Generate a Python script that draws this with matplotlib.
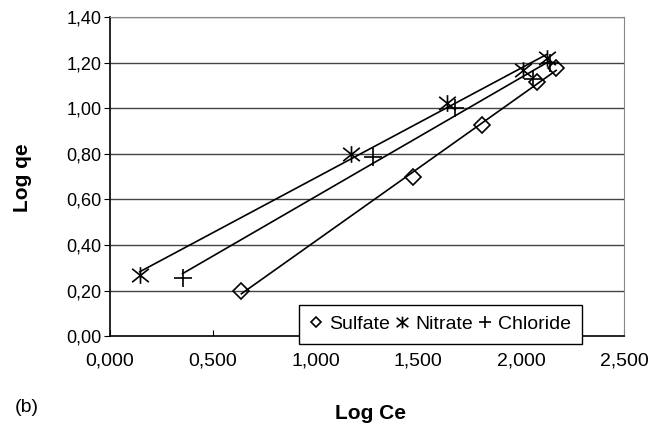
import matplotlib
matplotlib.use("Agg")
import matplotlib.pyplot as plt
import numpy as np
from matplotlib.path import Path

plt.rcParams["font.family"] = ["Liberation Sans", "DejaVu Sans"]

SERIES = ("Sulfate", "Nitrate", "Chloride")
sulfate_x = [0.64, 1.475, 1.81, 2.078, 2.17]
sulfate_y = [0.197, 0.699, 0.928, 1.113, 1.177]
nitrate_x = [0.146, 1.175, 1.64, 2.01, 2.124]
nitrate_y = [0.268, 0.80, 1.023, 1.167, 1.222]
chloride_x = [0.354, 1.28, 1.678, 2.06, 2.14]
chloride_y = [0.253, 0.786, 1.003, 1.13, 1.20]

x_ticks = [0.0, 0.5, 1.0, 1.5, 2.0, 2.5]
y_ticks = [0.0, 0.2, 0.4, 0.6, 0.8, 1.0, 1.2, 1.4]

# Excel-style star: an x with a vertical bar through it
STAR = Path([(-1, -0.8), (1, 0.8), (-1, 0.8), (1, -0.8), (0, -1), (0, 1)],
            [Path.MOVETO, Path.LINETO, Path.MOVETO, Path.LINETO, Path.MOVETO, Path.LINETO])

data = {
    "Sulfate": (sulfate_x, sulfate_y, "D", 8),
    "Nitrate": (nitrate_x, nitrate_y, STAR, 12),
    "Chloride": (chloride_x, chloride_y, "+", 13),
}

fig = plt.figure(figsize=(6.61, 4.25), dpi=100)
ax = fig.add_axes([0.166, 0.209, 0.778, 0.751])

for y in y_ticks[1:]:
    ax.axhline(y, color="#444444", lw=1.0, zorder=1)

handles = []
for name in SERIES:
    xs, ys, mk, ms = data[name]
    xs, ys = np.array(xs), np.array(ys)
    # linear trend line over the data range
    k, b = np.polyfit(xs, ys, 1)
    xl = np.array([xs.min(), xs.max()])
    ax.plot(xl, k * xl + b, color="black", lw=1.2, zorder=2)
    h, = ax.plot(xs, ys, linestyle="none", marker=mk, markersize=ms,
                 markerfacecolor="none", markeredgecolor="black", markeredgewidth=1.2,
                 zorder=3, label=name)
    handles.append(h)

ax.set_xlim(0, 2.5)
ax.set_ylim(0, 1.4)
ax.set_xticks(x_ticks)
ax.set_yticks(y_ticks)
ax.set_xticklabels([f"{v:.3f}".replace(".", ",") for v in x_ticks], fontsize=14)
ax.set_yticklabels([f"{v:.2f}".replace(".", ",") for v in y_ticks], fontsize=13)
ax.tick_params(axis="x", direction="in", length=4, pad=12, color="black")
ax.tick_params(axis="y", direction="out", length=4, pad=2, color="black")

for side in ("top", "right"):
    ax.spines[side].set_color("#888888")
for side in ("left", "bottom"):
    ax.spines[side].set_color("black")
    ax.spines[side].set_linewidth(1.2)

fig.text(0.034, 0.582, "Log qe", rotation=90, fontsize=15, fontweight="bold",
         ha="center", va="center")
fig.text(0.56, 0.027, "Log Ce", fontsize=15, fontweight="bold", ha="center", va="center")
fig.text(0.022, 0.04, "(b)", fontsize=14, ha="left", va="center")

leg = fig.legend(handles=handles, loc="lower left", bbox_to_anchor=(0.452, 0.191),
                 ncol=3, fontsize=14, frameon=True, fancybox=False, framealpha=1,
                 edgecolor="black", handlelength=0.7, handletextpad=0.3,
                 columnspacing=0.3, borderpad=0.55, markerscale=0.7,
                 borderaxespad=0)
leg.get_frame().set_linewidth(1.0)
leg.set_zorder(5)

fig.savefig("out.png", dpi=100)
